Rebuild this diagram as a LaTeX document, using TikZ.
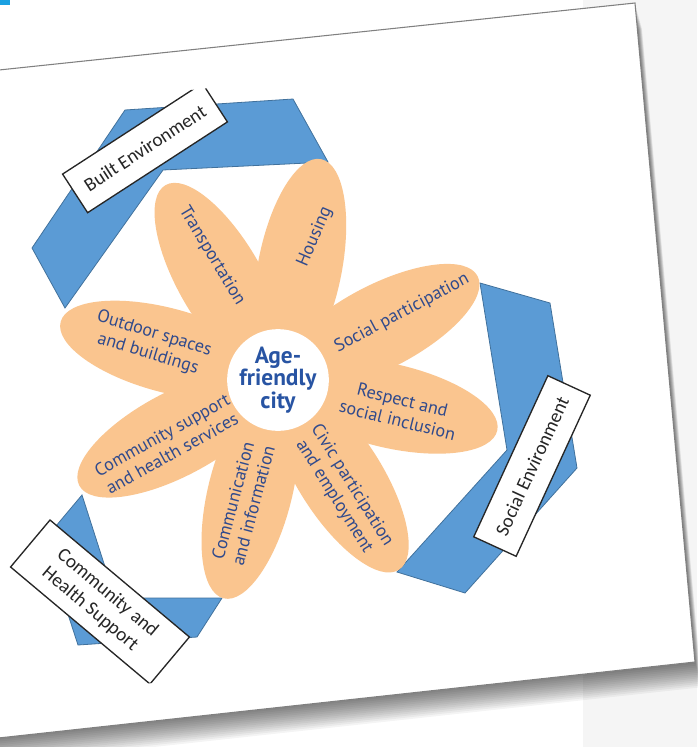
\documentclass[tikz,border=0pt]{standalone}
\usepackage{fontspec}
\setmainfont{Carlito}
\newfontfamily\petalfont{PT Sans}
\usetikzlibrary{shapes.geometric,calc}
\definecolor{petalc}{RGB}{250,197,143}
\definecolor{bandc}{RGB}{91,155,213}
\definecolor{bandline}{RGB}{65,113,156}
\definecolor{ptext}{RGB}{48,74,140}
\definecolor{ctext}{RGB}{40,84,163}
\definecolor{cyanbit}{RGB}{27,161,226}
\begin{document}
\begin{tikzpicture}[x=0.75pt,y=-0.75pt,
  petal/.style={ellipse, fill=petalc, minimum width=165pt, minimum height=63pt, inner sep=0pt},
  ptxt/.style={font=\petalfont\fontsize{13.5}{15.75}\selectfont, text=ptext, align=center, inner sep=0pt},
  band/.style={fill=bandc, draw=bandline, line width=0.6pt, line join=miter},
  labelbox/.style={draw=black!85, line width=1pt, fill=white, font=\fontsize{14.5}{17.5}\selectfont, text=black!85, inner sep=0pt}
]
\useasboundingbox (0,0) rectangle (697,747);
% background
\fill[white] (0,0) rectangle (697,747);
\fill[black!4] (583,0) rectangle (697,747);
% paper shadow
\foreach \k in {1,...,14}{
  \fill[black, opacity=0.045, shift={(0.5*\k,1.8*\k)}] (-20,72) -- (635,3) -- (695,662) -- (-20,740) -- cycle;
}
% paper
\filldraw[fill=white, draw=black!50, line width=0.8pt] (-20,72) -- (635,3) -- (695,662) -- (-20,740) -- cycle;
\fill[cyanbit] (0,0) rectangle (10,5);

\begin{scope}
\clip (0,110) -- (697,37) -- (697,626) -- (0,699) -- cycle;
% bands
\path[band] (125,110) -- (293,99) -- (328,162) -- (163,170) -- (65,308) -- (32,248) -- cycle;
\path[band] (480,283) -- (550,303) -- (577,468) -- (465,593) -- (397,572) -- (507,450) -- cycle;
\path[band] (82,495) -- (40,545) -- (66,608) -- (78,645) -- (197,637) -- (222,598) -- (115,598) -- cycle;

% flower
\coordinate (C) at (278,380);
\node[petal, rotate=120]  (p1) at ($(C)+(-120:115)$) {};
\node[petal, rotate=79]   (p2) at ($(C)+(-79:115)$) {};
\node[petal, rotate=27.5] (p3) at ($(C)+(-27.5:115)$) {};
\node[petal, rotate=-13]  (p4) at ($(C)+(13:115)$) {};
\node[petal, rotate=-57.5](p5) at ($(C)+(57.5:115)$) {};
\node[petal, rotate=-104] (p6) at ($(C)+(104:115)$) {};
\node[petal, rotate=-152] (p7) at ($(C)+(152:115)$) {};
\node[petal, rotate=165]  (p8) at ($(C)+(-165:115)$) {};
\node[circle, fill=white, minimum size=66pt, inner sep=0pt, align=center,
      font=\petalfont\bfseries\fontsize{17.5}{14}\selectfont, text=ctext] (hub) at (C) {Age-\\friendly\\city};

% petal texts
\node[ptxt, rotate=-59]  (t1) at (212,256) {Transportation};
\node[ptxt, rotate=67]   (t2) at (315,237) {Housing};
\node[ptxt, rotate=28]   (t3) at (402,313) {Social participation};
\node[ptxt, rotate=-14]  (t4) at (400,410) {Respect and\\social inclusion};
\node[ptxt, rotate=-58]  (t5) at (343,491) {Civic participation\\and employment};
\node[ptxt, rotate=75]   (t6) at (243,503) {Communication\\and information};
\node[ptxt, rotate=29]   (t7) at (167,444) {Community support\\and health services};
\node[ptxt, rotate=-17]  (t8) at (151,344) {Outdoor spaces\\and buildings};

% label boxes
\node[labelbox, rotate=33, minimum width=125pt, minimum height=34.5pt] (built) at (145,148) {Built Environment};
\node[labelbox, rotate=65.3, minimum width=133pt, minimum height=35pt] (social) at (532,466) {Social Environment};
\node[labelbox, rotate=-40, minimum width=136.5pt, minimum height=46pt, align=left] (comm) at (100,602) {Community and\\Health Support};
\end{scope}
\end{tikzpicture}
\end{document}
